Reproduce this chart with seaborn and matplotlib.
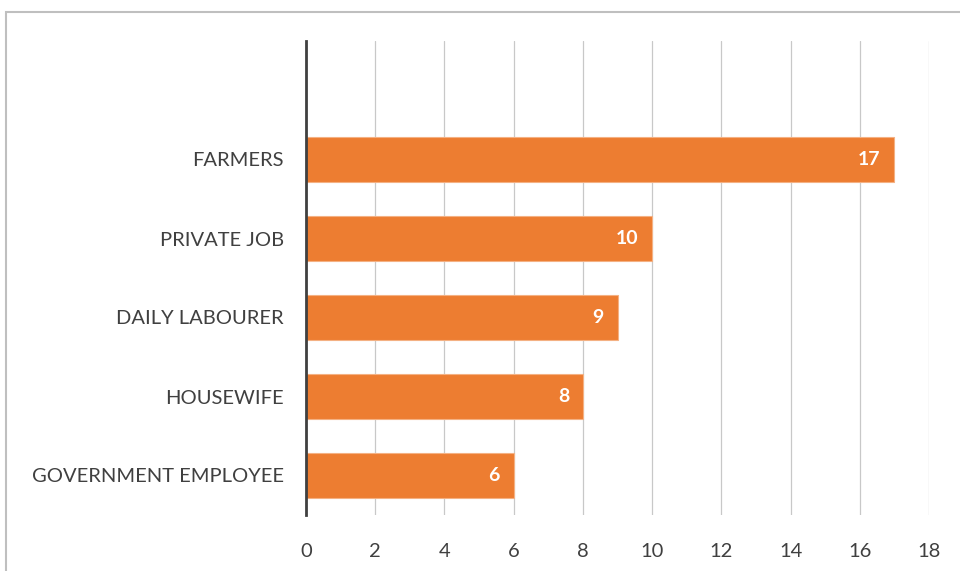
import matplotlib
matplotlib.use("Agg")
import matplotlib.pyplot as plt
import seaborn as sns
import pandas as pd
from matplotlib.patches import Rectangle

categories = ["FARMERS", "PRIVATE JOB", "DAILY LABOURER", "HOUSEWIFE", "GOVERNMENT EMPLOYEE"]
values = [17, 10, 9, 8, 6]
x_ticks = [0, 2, 4, 6, 8, 10, 12, 14, 16, 18]

df = pd.DataFrame({"category": categories, "value": values})

sns.set_theme(style="white")
plt.rcParams["font.family"] = ["Lato", "DejaVu Sans"]

W, H = 960, 571
fig = plt.figure(figsize=(W / 100, H / 100), dpi=100)
fig.patch.set_facecolor("white")

# outer chart border
fig.patches.append(Rectangle((6 / W, -0.1), 1.2, 1 - 12 / H + 0.1, transform=fig.transFigure,
                             fill=False, edgecolor="#BFBFBF", linewidth=1.5, zorder=0))

ax = fig.add_axes([306 / W, 1 - 515 / H, (929 - 306) / W, (515 - 41) / H])
sns.barplot(data=df, x="value", y="category", order=categories, color="#ED7D31",
            saturation=1, width=0.58, ax=ax, edgecolor="#F4B183", linewidth=0.8, zorder=3)

ax.set_xlim(0, 18)
ax.set_ylim(4.5, -1.5)
ax.set_xticks(x_ticks)
ax.set_xticklabels([str(t) for t in x_ticks])
ax.set_xlabel("")
ax.set_ylabel("")
ax.grid(axis="x", color="#C8C8C8", linewidth=0.9, zorder=0)
ax.grid(axis="y", visible=False)
ax.set_axisbelow(True)
for s in ["top", "right", "bottom"]:
    ax.spines[s].set_visible(False)
ax.spines["left"].set_color("#404040")
ax.spines["left"].set_linewidth(2.0)
ax.spines["left"].set_zorder(5)
ax.tick_params(axis="x", length=0, pad=20, labelsize=14.5, labelcolor="#404040")
ax.tick_params(axis="y", length=0, pad=16, labelsize=14.5, labelcolor="#404040")

for i, v in enumerate(values):
    ax.text(v - 0.4, i, str(v), ha="right", va="center", color="white",
            fontsize=14, fontweight="bold", zorder=6)

fig.savefig("out.png", dpi=100, facecolor="white")
